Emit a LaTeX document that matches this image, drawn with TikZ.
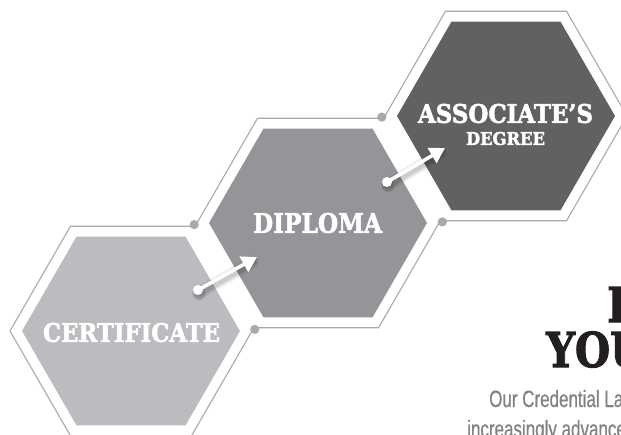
\documentclass[tikz,border=0pt]{standalone}
\usepackage{fontspec}
\usetikzlibrary{arrows.meta,calc}
\newfontfamily\slab{DejaVu Serif}[BoldFeatures={FakeBold=2.2}]
\newfontfamily\cond{Liberation Sans}[FakeStretch=0.72,FakeBold=0.6]
\definecolor{certfill}{HTML}{BBBCBF}
\definecolor{dipfill}{HTML}{939598}
\definecolor{assocfill}{HTML}{616163}
\definecolor{rimgray}{HTML}{A7A9AC}
\definecolor{bodygray}{HTML}{808285}
\definecolor{headblack}{HTML}{231F20}
\begin{document}
\begin{tikzpicture}[x=1pt,y=-1pt,
  rim/.style={draw=rimgray,line width=1.1pt,line join=miter},
  joint/.style={fill=rimgray},
  lab/.style={inner sep=0pt,text=white,font=\slab\bfseries},
  shadowline/.style={line cap=round,draw=black},
  whitearrow/.style={draw=white,line width=3.6pt,-{Triangle[length=15pt,width=17pt]}},
  headtext/.style={anchor=base west,inner sep=0pt,text=headblack},
  bodytext/.style={anchor=base west,inner sep=0pt,text=bodygray}]
\useasboundingbox (0,0) rectangle (621,434);
\clip (0,0) rectangle (621,434);

% centres
\coordinate (c1) at (131,331);
\coordinate (c2) at (318,223);
\coordinate (c3) at (506,116);

% filled hexagons
\fill[certfill] (c1) ++(0:109) -- ++(120:109) -- ++(180:109) -- ++(240:109) -- ++(300:109) -- ++(0:109) -- cycle;
\fill[dipfill] (c2) ++(0:109) -- ++(120:109) -- ++(180:109) -- ++(240:109) -- ++(300:109) -- ++(0:109) -- cycle;
\fill[assocfill] (c3) ++(0:109) -- ++(120:109) -- ++(180:109) -- ++(240:109) -- ++(300:109) -- ++(0:109) -- cycle;

% outer rims (partial); with y pointing down, angle -60 is the upper right corner
\draw[rim] ($(c1)+(-60:121)$) -- ($(c1)+(-120:121)$) -- ($(c1)+(180:121)$) -- ($(c1)+(120:121)$) -- ($(c1)+(60:121)$) -- ($(c1)+(0:121)$);
\draw[rim] ($(c2)+(180:121)$) -- ($(c2)+(-120:121)$) -- ($(c2)+(-60:121)$);
\draw[rim] ($(c2)+(0:121)$) -- ($(c2)+(60:121)$) -- ($(c2)+(120:121)$);
\draw[rim] ($(c3)+(180:121)$) -- ($(c3)+(-120:121)$) -- ($(c3)+(-60:121)$) -- ($(c3)+(0:121)$) -- ($(c3)+(60:121)$) -- ($(c3)+(120:121)$);

% joints
\coordinate (j1) at (194.2,224.6);
\coordinate (j2) at (254.8,329.4);
\coordinate (j3) at (381.8,117.1);
\coordinate (j4) at (442.3,221.9);
\foreach \j in {j1,j2,j3,j4} \fill[joint] (\j) circle (4.6);

% labels
\node[lab] (certL) at (131.5,332.5) {\resizebox{177pt}{19pt}{CERTIFICATE}};
\node[lab] (dipL) at (317.5,223) {\resizebox{129pt}{20pt}{DIPLOMA}};
\node[lab] (assocL) at (505.5,113.5) {\resizebox{175pt}{19pt}{ASSOCIATE’S}};
\node[lab] (degL) at (505.5,138.5) {\resizebox{79pt}{13pt}{DEGREE}};

% arrows
\coordinate (t1) at (198,290);
\coordinate (h1) at (257,257);
\coordinate (t2) at (387,182);
\coordinate (h2) at (445,148);
\foreach \t/\h in {t1/h1,t2/h2}{
  \foreach \w/\o in {13/0.05,10/0.07,7/0.09}{
    \draw[shadowline,line width=\w pt,opacity=\o] ([shift={(1,3)}]\t) -- ([shift={(-4,5)}]\h);
  }
  \fill[black,opacity=0.12] ([shift={(1,3.5)}]\t) circle (6.5);
  \draw[whitearrow] (\t) -- (\h);
  \fill[white] (\t) circle (5);
}

% headline (cut by the page edge)
\node[headtext] (head1) at (607,322) {\scalebox{0.84}[1]{\fontsize{48}{48}\selectfont\slab\bfseries BUILD}};
\node[headtext] (head2) at (546,367) {\scalebox{0.84}[1]{\fontsize{48}{48}\selectfont\slab\bfseries YOUR}};

% body text (cut by the page edge)
\node[bodytext] (body1) at (489,407) {\fontsize{23.6}{24}\selectfont\cond Our Credential Ladder};
\node[bodytext] (body2) at (467,437) {\fontsize{23.6}{24}\selectfont\cond increasingly advanced};
\end{tikzpicture}
\end{document}
